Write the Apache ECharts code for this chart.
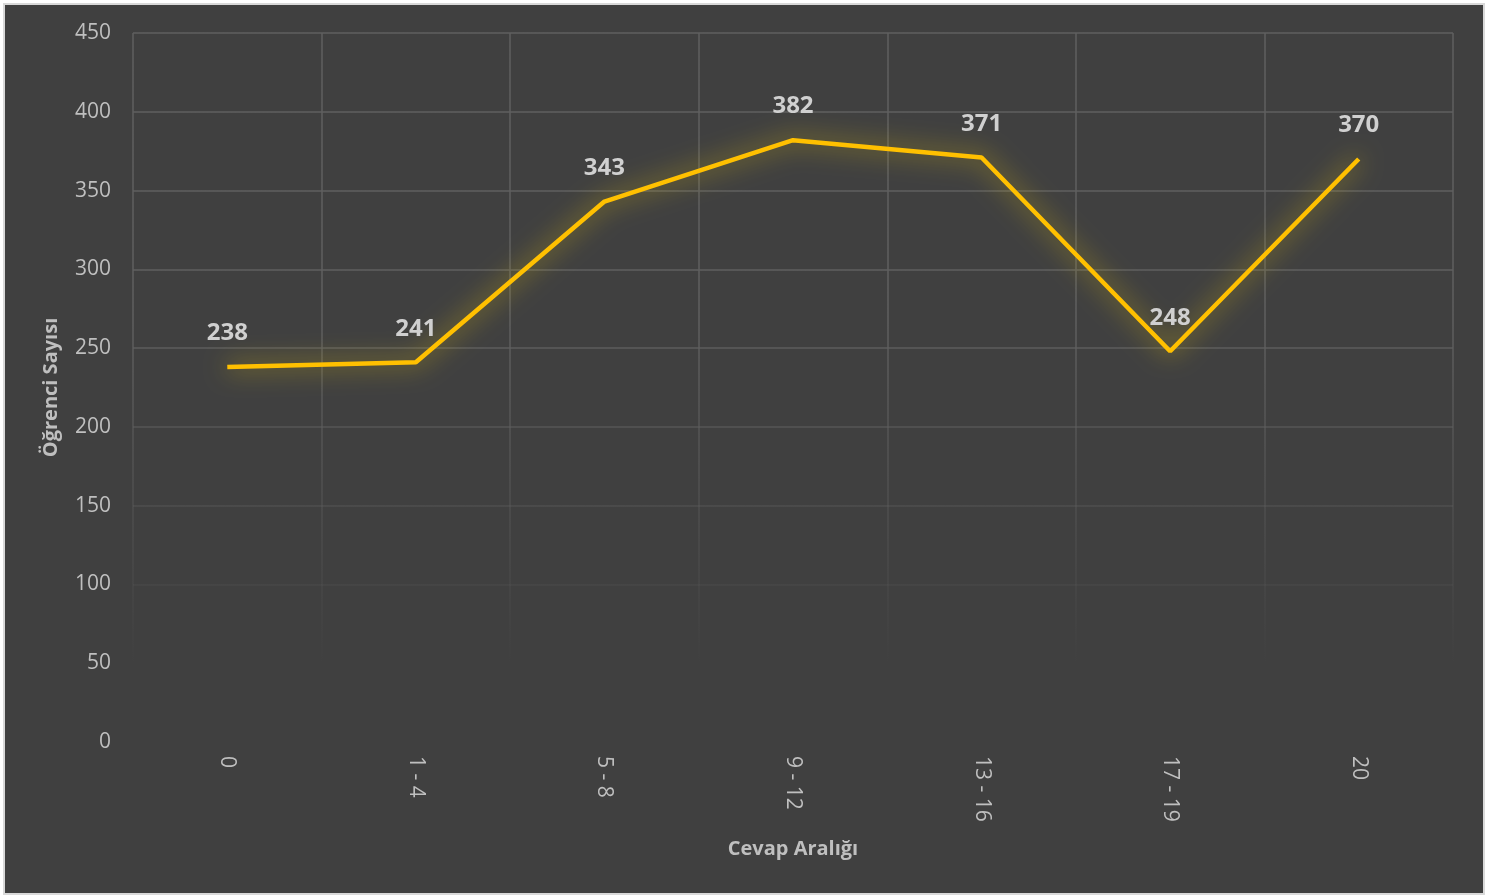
<!DOCTYPE html>
<html><head><meta charset="utf-8">
<script src="https://cdn.jsdelivr.net/npm/echarts@6/dist/echarts.min.js"></script>
<style>html,body{margin:0;padding:0;background:#fff;}#c{width:1492px;height:895px;}</style>
</head><body><div id="c"></div>
<script>
const categories = ['0', '1 - 4', '5 - 8', '9 - 12', '13 - 16', '17 - 19', '20'];
const values = [238, 241, 343, 382, 371, 248, 370];
const xAxisName = 'Cevap Aralığı';
const yAxisName = 'Öğrenci Sayısı';

const chart = echarts.init(document.getElementById('c'), null, {renderer: 'canvas'});
const font = '"Open Sans", "Liberation Sans", sans-serif';
const gridGrad = new echarts.graphic.LinearGradient(0, 33, 0, 665, [
  {offset: 0, color: 'rgba(95,95,95,1)'},
  {offset: 0.45, color: 'rgba(95,95,95,1)'},
  {offset: 1, color: 'rgba(95,95,95,0)'}
], true);
chart.setOption({
  backgroundColor: '#ffffff',
  animation: false,
  graphic: [{
    type: 'rect', left: 3, top: 3, z: -10,
    shape: {width: 1480, height: 890},
    style: {fill: '#404040', stroke: '#d9d9d9', lineWidth: 2}
  }],
  grid: {left: 133, right: 39, top: 33, bottom: 153, containLabel: false},
  xAxis: {
    type: 'category', data: categories, boundaryGap: true,
    axisLine: {show: false}, axisTick: {show: false},
    axisLabel: {rotate: -90, color: '#bfbfbf', fontSize: 21, fontFamily: font, margin: 14},
    splitLine: {show: true, interval: 0, lineStyle: {color: gridGrad, width: 1.5}},
    name: xAxisName, nameLocation: 'middle', nameGap: 97,
    nameTextStyle: {color: '#bfbfbf', fontSize: 20, fontWeight: 'bold', fontFamily: font}
  },
  yAxis: {
    type: 'value', min: 0, max: 450, interval: 50,
    axisLine: {show: false}, axisTick: {show: false},
    axisLabel: {color: '#bfbfbf', fontSize: 21, fontFamily: font, margin: 22},
    splitLine: {show: true, lineStyle: {color: gridGrad, width: 1.5}},
    name: yAxisName, nameLocation: 'middle', nameGap: 72, nameRotate: 90,
    nameTextStyle: {color: '#bfbfbf', fontSize: 20, fontWeight: 'bold', fontFamily: font}
  },
  series: [{
    type: 'line', data: values, symbol: 'circle', symbolSize: 1, showSymbol: true,
    itemStyle: {color: 'rgba(255,192,0,0)'},
    lineStyle: {color: '#FFC000', width: 4.5, shadowColor: 'rgba(255,215,0,0.75)', shadowBlur: 24},
    label: {show: true, position: 'top', distance: 21, color: '#d0d0d0', fontSize: 24, fontWeight: 'bold', fontFamily: font}
  }]
});
</script></body></html>
